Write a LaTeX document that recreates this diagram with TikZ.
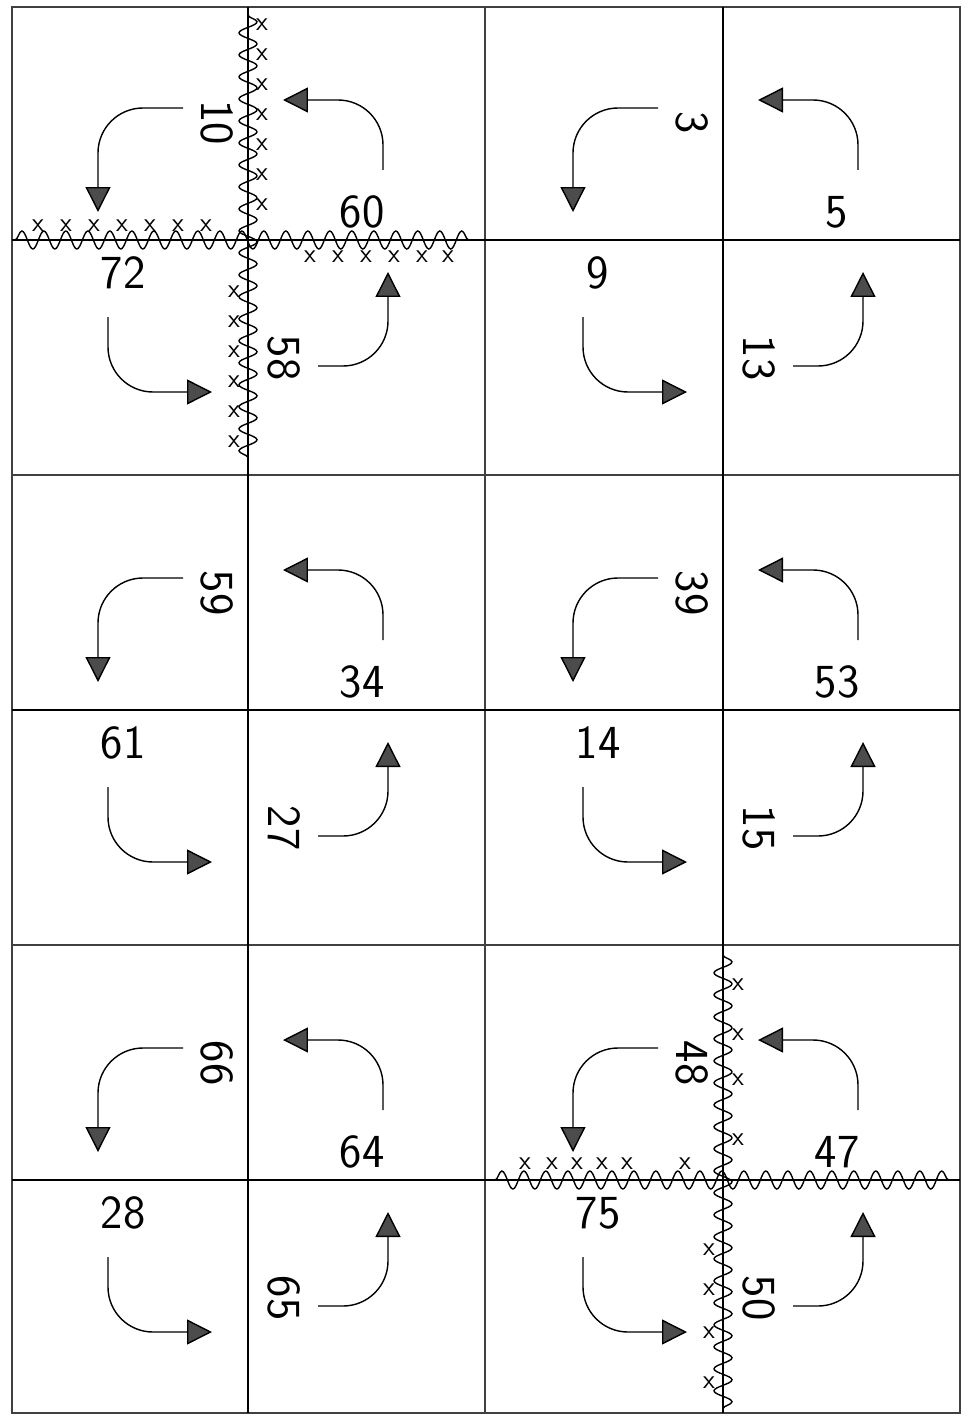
\documentclass[tikz,border=0pt]{standalone}
\usepackage{tikz}
\usetikzlibrary{arrows.meta, decorations.pathmorphing}

% one block: centre, then the numbers of the quadrants TL, TR, BL, BR
\newcommand{\turnblock}[6]{%
  \begin{scope}[shift={(#1,#2)}]
    \node[num, rotate=-90] (n#3) at (-31,-117) {#3};
    \node[num]             (n#4) at (114,-28)  {#4};
    \node[num]             (n#5) at (-125,33)  {#5};
    \node[num, rotate=-90] (n#6) at (36,118)   {#6};
    \coordinate (s#3) at (-65,-132); \coordinate (t#3) at (-150,-28);
    \coordinate (s#4) at (135,-70);  \coordinate (t#4) at (35,-140);
    \coordinate (s#5) at (-140,77);  \coordinate (t#5) at (-36,152);
    \coordinate (s#6) at (70,126);   \coordinate (t#6) at (140,32);
    \draw[turn] (s#3) -| (t#3);
    \draw[turn] (s#4) |- (t#4);
    \draw[turn] (s#5) |- (t#5);
    \draw[turn] (s#6) -| (t#6);
  \end{scope}}

\begin{document}
\begin{tikzpicture}[
    x=0.02cm, y=-0.02cm,
    num/.style={font=\fontsize{27}{30}\selectfont\sffamily, inner sep=1pt},
    turn/.style={-{Triangle[length=0.5cm, width=0.5cm, fill=black!70]},
                 line width=0.8pt, rounded corners=0.9cm},
    grid/.style={line width=1pt, draw=black!75},
    cross/.style={line width=1.3pt},
    wave/.style={decorate, line width=0.8pt,
                 decoration={snake, amplitude=0.18cm, segment length=0.44cm}},
    xmark/.style={font=\fontsize{15}{15}\selectfont\sffamily, inner sep=0pt}
]
\useasboundingbox (0,0) rectangle (970,1419);
% grid
\draw[grid] (12,7) rectangle (960,1413);
\draw[grid] (485,7) -- (485,1413);
\draw[grid] (12,475) -- (960,475) (12,945) -- (960,945);
\draw[cross] (248,7) -- (248,1413) (723,7) -- (723,1413);
\draw[cross] (12,240) -- (960,240) (12,710) -- (960,710) (12,1180) -- (960,1180);
% blocks
\turnblock{248}{240}{10}{60}{72}{58}
\turnblock{723}{240}{3}{5}{9}{13}
\turnblock{248}{710}{59}{34}{61}{27}
\turnblock{723}{710}{39}{53}{14}{15}
\turnblock{248}{1180}{66}{64}{28}{65}
\turnblock{723}{1180}{48}{47}{75}{50}
% wavy lines
\draw[wave] (15,240) -- (473,240);
\draw[wave] (248,15) -- (248,460);
\draw[wave] (495,1180) -- (950,1180);
\draw[wave] (723,955) -- (723,1410);
% x marks
\foreach \x [count=\i] in {38,66,94,122,150,178,206}
  \node[xmark] (xa\i) at (\x,226) {x};
\foreach \x [count=\i] in {310,338,366,394,422,448}
  \node[xmark] (xb\i) at (\x,257) {x};
\foreach \y [count=\i] in {25,55,85,115,145,175,205}
  \node[xmark] (xc\i) at (262,\y) {x};
\foreach \y [count=\i] in {292,322,352,382,412,442}
  \node[xmark] (xd\i) at (234,\y) {x};
\foreach \x [count=\i] in {525,552,577,602,627,685}
  \node[xmark] (xe\i) at (\x,1164) {x};
\foreach \y [count=\i] in {985,1035,1080,1140}
  \node[xmark] (xf\i) at (738,\y) {x};
\foreach \y [count=\i] in {1250,1290,1333,1383}
  \node[xmark] (xg\i) at (709,\y) {x};
\end{tikzpicture}
\end{document}
